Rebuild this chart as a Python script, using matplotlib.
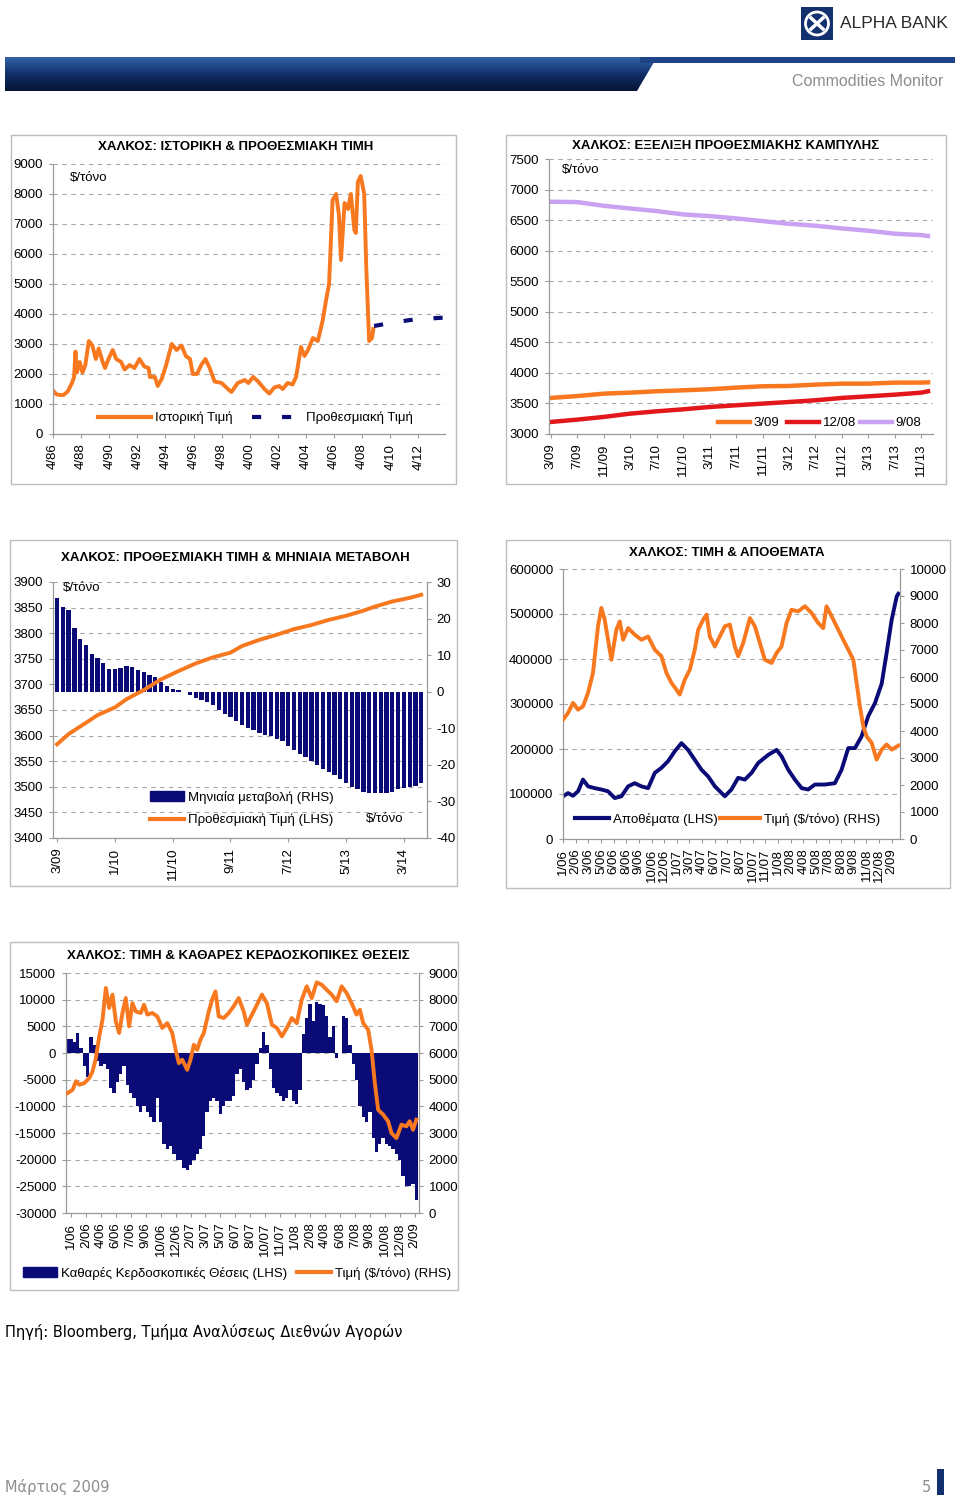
import matplotlib
matplotlib.use("Agg")
import matplotlib.pyplot as plt
import numpy as np
from matplotlib.colors import LinearSegmentedColormap
from matplotlib.lines import Line2D
from matplotlib.patches import Circle, Polygon, Rectangle

W, H = 960, 1499
ORANGE = "#F7781E"
NAVY = "#0B0B78"
RED = "#E3171B"
LILAC = "#C9A2F2"
GRID = "#A8A8A8"
AXC = "#9A9A9A"
FS = 9.5

plt.rcParams["font.family"] = ["Liberation Sans", "DejaVu Sans"]
plt.rcParams["axes.unicode_minus"] = False

# ---- chart 1: historical & forward price ----
hist_year = [1986.25, 1986.5, 1986.8, 1987.0, 1987.3, 1987.6, 1987.75, 1987.85, 1987.95, 1988.15,
             1988.35, 1988.55, 1988.8, 1989.05, 1989.3, 1989.5, 1989.75, 1989.95, 1990.2, 1990.5,
             1990.75, 1991.1, 1991.35, 1991.7, 1992.05, 1992.4, 1992.75, 1993.05, 1993.15, 1993.5,
             1993.7, 1994.0, 1994.3, 1994.7, 1995.05, 1995.4, 1995.7, 1996.0, 1996.2, 1996.5,
             1996.8, 1997.1, 1997.4, 1997.75, 1998.25, 1998.7, 1998.95, 1999.4, 1999.9, 2000.15,
             2000.5, 2000.85, 2001.3, 2001.65, 2002.0, 2002.35, 2002.6, 2002.95, 2003.3, 2003.55,
             2003.9, 2004.15, 2004.4, 2004.75, 2005.1, 2005.45, 2005.7, 2005.9, 2006.15, 2006.4,
             2006.6, 2006.75, 2007.0, 2007.25, 2007.45, 2007.7, 2007.8, 2007.95, 2008.15, 2008.4,
             2008.55, 2008.75, 2008.95, 2009.05]
hist_price = [1450, 1320, 1300, 1300, 1420, 1700, 1900, 2750, 2050, 2400,
              2050, 2300, 3100, 2950, 2500, 2850, 2450, 2200, 2500, 2800,
              2500, 2400, 2150, 2300, 2200, 2500, 2250, 2200, 1900, 1900,
              1600, 1850, 2300, 3000, 2800, 2950, 2600, 2500, 2000, 2000,
              2300, 2500, 2200, 1750, 1700, 1500, 1400, 1700, 1800, 1700,
              1900, 1750, 1500, 1350, 1550, 1600, 1500, 1700, 1650, 1900,
              2900, 2600, 2800, 3200, 3100, 3800, 4500, 5000, 7800, 8000,
              7300, 5800, 7700, 7500, 8000, 6800, 6700, 8400, 8600, 8000,
              5500, 3100, 3200, 3500]
fwd_year = [2009.1, 2010.5, 2012.0, 2014.1]
fwd_price = [3600, 3720, 3820, 3880]
c1_ticks = [1986.25 + 2 * k for k in range(14)]
c1_labels = ["4/86", "4/88", "4/90", "4/92", "4/94", "4/96", "4/98", "4/00", "4/02", "4/04",
             "4/06", "4/08", "4/10", "4/12"]

# ---- chart 2: forward curves ----
curve_month = [0, 4, 8, 12, 16, 20, 24, 28, 32, 36, 40, 44, 48, 52, 56, 57]
curve_mar09 = [3590, 3621, 3660, 3677, 3699, 3715, 3732, 3759, 3781, 3786, 3808, 3824, 3824, 3841, 3841, 3845]
curve_dec08 = [3197, 3235, 3279, 3333, 3371, 3404, 3442, 3470, 3497, 3524, 3552, 3590, 3617, 3644, 3677, 3699]
curve_sep08 = [6801, 6795, 6735, 6690, 6648, 6593, 6566, 6528, 6484, 6440, 6408, 6364, 6326, 6277, 6255, 6240]
c2_labels = ["3/09", "7/09", "11/09", "3/10", "7/10", "11/10", "3/11", "7/11", "11/11", "3/12",
             "7/12", "11/12", "3/13", "7/13", "11/13"]

# ---- chart 3: forward price & monthly change ----
mchg = [25.7, 23.1, 22.4, 17.4, 14.4, 12.9, 10.4, 9.3, 7.9, 6.2, 6.2, 6.4, 6.9, 6.7, 5.9, 5.3,
        4.7, 4.0, 2.6, 1.5, 0.7, 0.4, 0.0,
        -1.0, -1.6, -2.2, -2.8, -3.7, -4.9, -6.0, -6.9, -8.1, -9.1, -10.0, -10.6, -11.2, -11.8,
        -12.2, -12.8, -13.6, -14.8, -15.9, -16.9, -17.9, -18.9, -20.0, -21.0, -22.0, -22.9,
        -23.8, -24.9, -26.1, -26.7, -27.5, -27.8, -27.8, -27.8, -27.8, -27.3, -26.7, -26.4,
        -26.1, -25.8, -25.0]
fp_month = [0, 2, 5, 7, 10, 12, 15, 18, 21, 24, 27, 30, 32, 35, 38, 41, 44, 47, 50, 53, 55, 58, 61, 63]
fp_price = [3583, 3603, 3625, 3640, 3655, 3671, 3689, 3710, 3726, 3741, 3753, 3762, 3775, 3787,
            3797, 3808, 3816, 3826, 3834, 3844, 3852, 3862, 3869, 3875]
c3_labels = ["3/09", "1/10", "11/10", "9/11", "7/12", "5/13", "3/14"]

# ---- chart 4: price & stocks ----
inv_t = [0, 0.4, 0.79, 1.19, 1.58, 1.98, 2.51, 3.03, 3.56, 4.09, 4.62, 5.15, 5.67, 6.2, 6.73,
         7.26, 7.78, 8.31, 8.84, 9.37, 9.89, 10.42, 10.95, 11.48, 12.01, 12.8, 13.32, 13.85,
         14.38, 14.91, 15.44, 16.23, 16.89, 17.28, 17.81, 18.34, 18.87, 19.39, 19.92, 20.71,
         21.5, 22.03, 22.56, 23.09, 23.61, 24.14, 24.67, 25.2, 25.59, 25.99, 26.39, 26.52]
inv_val = [94800, 102000, 96000, 106000, 132000, 117000, 113000, 110000, 106000, 91000, 95000,
           117000, 124000, 117000, 113000, 147000, 158000, 173000, 195000, 213000, 198000,
           176000, 154000, 139000, 117000, 95000, 110000, 136000, 132000, 147000, 169000,
           187000, 198000, 184000, 154000, 132000, 113000, 110000, 121000, 121000, 124000,
           154000, 202000, 202000, 228000, 273000, 302000, 345000, 413000, 487000, 539000, 545000]
px_t = [0, 0.4, 0.79, 1.19, 1.58, 1.98, 2.37, 2.77, 3.03, 3.3, 3.56, 3.83, 4.22, 4.49, 4.75,
        5.15, 5.67, 6.2, 6.73, 7.26, 7.78, 8.18, 8.58, 8.97, 9.23, 9.63, 10.03, 10.42, 10.69,
        11.08, 11.35, 11.61, 12.01, 12.4, 12.8, 13.19, 13.59, 13.85, 14.25, 14.78, 15.17,
        15.57, 15.96, 16.49, 16.89, 17.28, 17.68, 18.07, 18.6, 19.13, 19.66, 20.18, 20.58,
        20.84, 21.24, 21.77, 22.16, 22.56, 22.96, 23.22, 23.48, 23.75, 24.01, 24.41, 24.8,
        25.2, 25.59, 25.99, 26.52]
px_val = [4420, 4670, 5040, 4790, 4910, 5410, 6150, 7880, 8560, 8120, 7380, 6640, 7750, 8060,
          7380, 7810, 7570, 7380, 7500, 7010, 6770, 6150, 5780, 5530, 5350, 5900, 6270, 7010,
          7750, 8120, 8310, 7500, 7130, 7500, 7880, 7940, 7130, 6770, 7260, 8180, 7880, 7260,
          6640, 6520, 6890, 7130, 8000, 8490, 8430, 8620, 8370, 8000, 7810, 8620, 8250, 7750,
          7380, 7010, 6640, 5780, 4910, 4170, 3800, 3560, 2940, 3310, 3500, 3310, 3460]
c4_labels = ["1/06", "2/06", "3/06", "5/06", "6/06", "8/06", "9/06", "10/06", "12/06", "1/07",
             "3/07", "4/07", "6/07", "7/07", "8/07", "10/07", "11/07", "1/08", "2/08", "4/08",
             "5/08", "7/08", "8/08", "9/08", "11/08", "12/08", "2/09"]

# ---- chart 5: price & net speculative positions ----
spec = [2600, 2600, 2000, 3800, 1000, -2500, -4500, 3000, 1500, -1500,
        -2500, -2000, -3000, -6500, -7500, -5500, -4000, -2500, -6000, -7500,
        -8500, -10000, -11000, -10000, -11000, -12000, -13000, -8500, -13000, -17000,
        -18000, -17500, -19000, -20000, -20000, -21500, -22000, -21000, -20000, -19000,
        -18000, -15500, -11000, -9000, -8500, -9000, -11500, -10000, -9000, -9000,
        -8000, -4000, -3000, -5500, -7000, -6500, -5000, -2000, 1000, 4000,
        1500, -3000, -6500, -7500, -8000, -9000, -8500, -7000, -9000, -9500,
        -7000, 3500, 6500, 9200, 6000, 9500, 9200, 9000, 7000, 3000,
        5000, -1000, 0, 7000, 6500, 1500, -2000, -5000, -10000, -12000,
        -13000, -11000, -16000, -18500, -17000, -16000, -17000, -17500, -18000, -19000,
        -20000, -23000, -25000, -25000, -24500, -27500]
sp_px_t = [0, 1.5, 2.5, 3.5, 5, 6.5, 7.5, 8.5, 9.5, 10.5, 11.5, 12.5, 13.5, 14.5, 15.5, 16.5,
           17.5, 18.5, 19.5, 20.5, 22, 23, 24, 25.5, 27, 28.5, 30, 31.5, 32.5, 33.5, 34.5, 36,
           37, 38, 39, 40, 41, 42.5, 43.5, 44.5, 45.5, 47, 48.5, 50, 51.5, 53, 54, 55.5, 57,
           58.5, 60, 61.5, 63, 64.5, 66, 67.5, 69, 70.5, 72, 73.5, 75, 76.5, 78, 79.5, 81,
           82.5, 84, 85.5, 87, 88, 89, 90.5, 91.5, 92.5, 93.5, 95, 96.5, 97.5, 99, 100.5, 102,
           103, 104, 105]
sp_px_val = [4500, 4620, 4940, 4810, 4870, 5060, 5310, 5810, 6620, 7250, 8440, 7690, 8190, 7190,
             6750, 7500, 8060, 7000, 7870, 7560, 7500, 7810, 7440, 7500, 7370, 6940, 7120, 6750,
             6120, 5620, 5750, 5370, 5750, 6310, 6120, 6500, 6750, 7560, 8000, 8310, 7370, 7310,
             7500, 7750, 8060, 7560, 7060, 7440, 7810, 8190, 7870, 7060, 6940, 6620, 6940, 7310,
             7120, 8000, 8500, 8060, 8650, 8560, 8370, 8190, 7940, 8500, 8250, 7870, 7440, 7620,
             7120, 6870, 6120, 4870, 3870, 3690, 3440, 3000, 2810, 3310, 3250, 3440, 3120, 3500]
c5_labels = ["1/06", "2/06", "4/06", "6/06", "7/06", "9/06", "10/06", "12/06", "2/07", "3/07",
             "5/07", "6/07", "8/07", "10/07", "11/07", "1/08", "2/08", "4/08", "6/08", "7/08",
             "9/08", "10/08", "12/08", "2/09"]


def px_axes(fig, x0, y0, x1, y1):
    return fig.add_axes([x0 / W, 1 - y1 / H, (x1 - x0) / W, (y1 - y0) / H])


def style(ax, grid=True):
    ax.set_facecolor("none")
    ax.spines["top"].set_visible(False)
    ax.spines["right"].set_visible(False)
    for s in ["left", "bottom"]:
        ax.spines[s].set_color(AXC)
        ax.spines[s].set_linewidth(0.9)
    ax.tick_params(length=3, width=0.8, color=AXC, labelsize=FS, pad=4)
    if grid:
        ax.yaxis.grid(True, color=GRID, linestyle=(0, (4, 4)), linewidth=0.8)
    ax.set_axisbelow(True)


def style_right(ax):
    ax.set_facecolor("none")
    for s in ["top", "left", "bottom"]:
        ax.spines[s].set_visible(False)
    ax.spines["right"].set_color(AXC)
    ax.spines["right"].set_linewidth(0.9)
    ax.tick_params(length=3, width=0.8, color=AXC, labelsize=FS, pad=4)


def fx(x):
    return x / W


def fy(y):
    return 1 - y / H


def leg(fig, handle, label, x, y, hl):
    fig.legend([handle], [label], loc="center left", bbox_to_anchor=(fx(x), fy(y)),
               frameon=False, handlelength=hl, handletextpad=0.3, borderpad=0,
               borderaxespad=0, fontsize=FS)


def text_px(fig, x, y, s, **kw):
    fig.text(fx(x), fy(y), s, **kw)


fig = plt.figure(figsize=(W / 100, H / 100), dpi=100)
fig.patch.set_facecolor("white")

# decoration layer in pixel coordinates
deco = fig.add_axes([0, 0, 1, 1], zorder=-5)
deco.set_axis_off()
band = LinearSegmentedColormap.from_list("band", ["#3462A6", "#11306A", "#061433"])
im = deco.imshow(np.linspace(0, 1, 60).reshape(-1, 1), extent=(5, 955, 91, 57),
                 origin="upper", cmap=band, aspect="auto")
clip = Polygon([(5, 57), (657, 57), (637, 91), (5, 91)], closed=True, transform=deco.transData)
im.set_clip_path(clip)
deco.add_patch(Rectangle((640, 57), 315, 6, color="#1E4386", lw=0))
deco.add_patch(Rectangle((801, 7), 32, 33, color="#12306E", lw=0))
deco.add_patch(Circle((817, 23.5), 11.5, fill=False, ec="white", lw=2))
deco.plot([811, 823], [18, 29], color="white", lw=2.5)
deco.plot([823, 811], [18, 29], color="white", lw=2.5)
deco.add_patch(Rectangle((937, 1469), 7, 26, color="#12306E", lw=0))
for (x0, y0, x1, y1) in [(11, 135, 456, 484), (506, 135, 946, 484), (10, 540, 457, 886),
                         (506, 540, 950, 888), (10, 942, 458, 1290)]:
    deco.add_patch(Rectangle((x0, y0), x1 - x0, y1 - y0, fill=False, ec="#BDBDBD", lw=1))
deco.set_xlim(0, W)
deco.set_ylim(H, 0)

text_px(fig, 840, 23, "ALPHA BANK", fontsize=12.5, color="#2A2A2A", va="center")
text_px(fig, 943, 82, "Commodities Monitor", fontsize=11.5, color="#8C8C8C", ha="right", va="center")
text_px(fig, 5, 1332, "Πηγή: Bloomberg, Τμήμα Αναλύσεως Διεθνών Αγορών", fontsize=10.5,
        family="DejaVu Sans", va="center")
text_px(fig, 5, 1487, "Μάρτιος 2009", fontsize=10.5, color="#8C8C8C", family="DejaVu Sans",
        va="center")
text_px(fig, 931, 1487, "5", fontsize=10.5, color="#8C8C8C", family="DejaVu Sans",
        va="center", ha="right")

title_kw = dict(fontsize=9.5, fontweight="bold", ha="center", va="center")

# ---- chart 1 ----
ax1 = px_axes(fig, 53, 164, 445, 434)
style(ax1)
ax1.plot(hist_year, hist_price, color=ORANGE, lw=2.8, solid_joinstyle="round")
ax1.plot(fwd_year, fwd_price, color=NAVY, lw=3, linestyle=(0, (2.2, 5)))
ax1.set_xlim(1986.25, 2014.15)
ax1.set_ylim(0, 9000)
ax1.set_yticks(range(0, 9001, 1000))
ax1.set_xticks(c1_ticks)
ax1.set_xticklabels(c1_labels, rotation=90)
text_px(fig, 236, 147, "ΧΑΛΚΟΣ: ΙΣΤΟΡΙΚΗ & ΠΡΟΘΕΣΜΙΑΚΗ ΤΙΜΗ", **title_kw)
text_px(fig, 70, 178, "$/τόνο", fontsize=FS, va="center")
leg(fig, Line2D([], [], color=ORANGE, lw=3), "Ιστορική Τιμή", 98, 418, 4.0)
leg(fig, Line2D([], [], color=NAVY, lw=3, linestyle=(0, (2.2, 5))), "Προθεσμιακή Τιμή", 252, 418, 3.8)

# ---- chart 2 ----
ax2 = px_axes(fig, 549, 159, 933, 434)
style(ax2)
ax2.plot(curve_month, curve_sep08, color=LILAC, lw=3.2)
ax2.plot(curve_month, curve_mar09, color=ORANGE, lw=3.2)
ax2.plot(curve_month, curve_dec08, color=RED, lw=3.2)
ax2.set_xlim(-0.25, 57.75)
ax2.set_ylim(3000, 7500)
ax2.set_yticks(range(3000, 7501, 500))
ax2.set_xticks(range(0, 57, 4))
ax2.set_xticklabels(c2_labels, rotation=90)
text_px(fig, 726, 146, "ΧΑΛΚΟΣ: ΕΞΕΛΙΞΗ ΠΡΟΘΕΣΜΙΑΚΗΣ ΚΑΜΠΥΛΗΣ", **title_kw)
text_px(fig, 562, 170, "$/τόνο", fontsize=FS, va="center")
leg(fig, Line2D([], [], color=ORANGE, lw=3.2), "3/09", 718, 423, 2.4)
leg(fig, Line2D([], [], color=RED, lw=3.2), "12/08", 787, 423, 2.4)
leg(fig, Line2D([], [], color=LILAC, lw=3.2), "9/08", 860, 423, 2.4)

# ---- chart 3 ----
ax3 = px_axes(fig, 53, 582, 427, 838)
style(ax3)
ax3.set_ylim(3400, 3900)
ax3.set_yticks(range(3400, 3901, 50))
ax3.set_xlim(-0.7, 64)
ax3.set_xticks(range(0, 61, 10))
ax3.set_xticklabels(c3_labels, rotation=90)
ax3b = ax3.twinx()
style_right(ax3b)
ax3b.bar(range(len(mchg)), mchg, width=0.74, color=NAVY, lw=0)
ax3b.set_ylim(-40, 30)
ax3b.set_yticks(range(-40, 31, 10))
ax3c = ax3.twinx()
ax3c.set_axis_off()
ax3c.plot(fp_month, fp_price, color=ORANGE, lw=2.8)
ax3c.set_ylim(3400, 3900)
text_px(fig, 235, 558, "ΧΑΛΚΟΣ: ΠΡΟΘΕΣΜΙΑΚΗ ΤΙΜΗ & ΜΗΝΙΑΙΑ ΜΕΤΑΒΟΛΗ", **title_kw)
text_px(fig, 63, 588, "$/τόνο", fontsize=FS, va="center")
text_px(fig, 366, 819, "$/τόνο", fontsize=FS, va="center")
leg(fig, Rectangle((0, 0), 1, 1, color=NAVY), "Μηνιαία μεταβολή (RHS)", 150, 797, 2.6)
leg(fig, Line2D([], [], color=ORANGE, lw=3), "Προθεσμιακή Τιμή (LHS)", 150, 820, 2.6)

# ---- chart 4 ----
ax4 = px_axes(fig, 563, 569, 900, 839)
style(ax4)
ax4.plot(inv_t, inv_val, color=NAVY, lw=2.8)
ax4.set_xlim(0, 26.65)
ax4.set_ylim(0, 600000)
ax4.set_yticks(range(0, 600001, 100000))
ax4.set_xticks(range(len(c4_labels)))
ax4.set_xticklabels(c4_labels, rotation=90)
ax4b = ax4.twinx()
style_right(ax4b)
ax4b.plot(px_t, px_val, color=ORANGE, lw=2.8)
ax4b.set_ylim(0, 10000)
ax4b.set_yticks(range(0, 10001, 1000))
text_px(fig, 727, 553, "ΧΑΛΚΟΣ: ΤΙΜΗ & ΑΠΟΘΕΜΑΤΑ", **title_kw)
leg(fig, Line2D([], [], color=NAVY, lw=3), "Αποθέματα (LHS)", 575, 819, 2.6)
leg(fig, Line2D([], [], color=ORANGE, lw=3), "Τιμή ($/τόνο) (RHS)", 720, 819, 3.0)

# ---- chart 5 ----
ax5 = px_axes(fig, 66, 973, 419, 1213)
style(ax5)
ax5.bar(range(len(spec)), spec, width=1.0, color=NAVY, lw=0)
ax5.set_xlim(-0.5, 105.8)
ax5.set_ylim(-30000, 15000)
ax5.set_yticks(range(-30000, 15001, 5000))
ax5.set_xticks([1 + 4.5 * j for j in range(len(c5_labels))])
ax5.set_xticklabels(c5_labels, rotation=90)
ax5b = ax5.twinx()
style_right(ax5b)
ax5b.plot(sp_px_t, sp_px_val, color=ORANGE, lw=2.8)
ax5b.set_ylim(0, 9000)
ax5b.set_yticks(range(0, 9001, 1000))
text_px(fig, 238, 956, "ΧΑΛΚΟΣ: ΤΙΜΗ & ΚΑΘΑΡΕΣ ΚΕΡΔΟΣΚΟΠΙΚΕΣ ΘΕΣΕΙΣ", **title_kw)
leg(fig, Rectangle((0, 0), 1, 1, color=NAVY), "Καθαρές Κερδοσκοπικές Θέσεις (LHS)", 23, 1273, 2.6)
leg(fig, Line2D([], [], color=ORANGE, lw=3), "Τιμή ($/τόνο) (RHS)", 297, 1273, 2.6)

fig.savefig("out.png", dpi=100)
